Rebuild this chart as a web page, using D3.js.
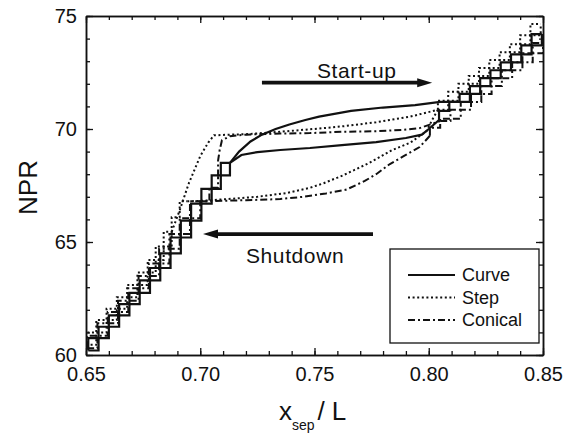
<!DOCTYPE html>
<html>
<head>
<meta charset="utf-8">
<script src="https://cdn.jsdelivr.net/npm/d3@7"></script>
<style>
  html, body { margin: 0; padding: 0; background: #fff; }
  svg { display: block; }
  text { font-family: "Liberation Sans", Arial, Helvetica, sans-serif; fill: #111; }
</style>
</head>
<body>
<svg id="chart" width="574" height="434"></svg>
<script>
// Axis ticks
const xTicks = [0.65, 0.70, 0.75, 0.80, 0.85];
const xTickLabels = ["0.65", "0.70", "0.75", "0.80", "0.85"];
const xMinorTicks = d3.range(0, 21).map(i => 0.65 + i * 0.01);
const yTicks = [60, 65, 70, 75];
const yTickLabels = ["60", "65", "70", "75"];
const yMinorTicks = d3.range(60, 76);

// Legend entries (series names)
const seriesNames = ["Curve", "Step", "Conical"];

// Curve nozzle: [x_sep/L, NPR]
const curveLowStairs = [[0.651,60.2],[0.6555,60.75],[0.660,61.25],[0.6645,61.75],[0.669,62.25],[0.6735,62.75],[0.678,63.3],[0.6825,63.85],[0.687,64.5],[0.6915,65.2],[0.696,65.95],[0.7005,66.7],[0.705,67.35],[0.709,67.95],[0.713,68.5]];
const curveStartup = [[0.713,68.5],[0.717,69.0],[0.722,69.45],[0.727,69.75],[0.733,70.0],[0.739,70.2],[0.746,70.4],[0.752,70.55],[0.766,70.8],[0.78,70.95],[0.794,71.06],[0.805,71.2],[0.8135,71.2]];
const curveShutdown = [[0.8045,70.4],[0.8,70.0],[0.797,69.75],[0.79,69.6],[0.777,69.42],[0.762,69.29],[0.748,69.16],[0.735,69.07],[0.725,68.98],[0.718,68.85],[0.713,68.5]];
const curveHighStairs = [[0.800,70.0],[0.8045,70.4],[0.809,70.8],[0.8135,71.2],[0.818,71.55],[0.8225,71.9],[0.827,72.25],[0.8315,72.6],[0.836,72.95],[0.8405,73.3],[0.845,73.7],[0.8495,74.2]];

// Step nozzle
const stepLowStairs = [[0.650,60.45],[0.6545,61.0],[0.659,61.55],[0.6635,62.05],[0.668,62.55],[0.6725,63.1],[0.677,63.65],[0.6805,64.2],[0.684,64.8],[0.6875,65.45],[0.691,66.1],[0.6945,66.8]];
const stepStartup = [[0.6875,65.45],[0.691,66.4],[0.695,67.6],[0.700,68.8],[0.7035,69.4],[0.706,69.72],[0.713,69.75],[0.72,69.77],[0.73,69.84],[0.74,69.92],[0.752,70.02],[0.7625,70.12],[0.777,70.3],[0.792,70.55],[0.804,70.85]];
const stepShutdown = [[0.804,70.85],[0.8015,70.4],[0.799,69.9],[0.792,69.4],[0.784,69.07],[0.774,68.5],[0.7625,67.95],[0.754,67.6],[0.748,67.4],[0.738,67.17],[0.725,67.0],[0.712,66.9],[0.700,66.82],[0.6945,66.8]];
const stepHighStairs = [[0.804,70.85],[0.8085,71.25],[0.813,71.65],[0.8175,72.0],[0.822,72.35],[0.8265,72.7],[0.831,73.05],[0.8355,73.4],[0.84,73.75],[0.8445,74.15],[0.849,74.65]];

// Conical nozzle
const conicalLowStairs = [[0.6505,60.3],[0.655,60.85],[0.6595,61.4],[0.664,61.9],[0.6685,62.4],[0.673,62.95],[0.6775,63.5],[0.682,64.05],[0.6865,64.7],[0.691,65.35],[0.6955,66.05],[0.700,66.8],[0.704,67.4],[0.7078,67.9]];
const conicalStartup = [[0.7078,67.9],[0.7078,68.6],[0.7085,69.07],[0.7095,69.5],[0.713,69.68],[0.72,69.75],[0.735,69.8],[0.748,69.82],[0.7625,69.88],[0.777,69.9],[0.789,69.96],[0.796,70.04],[0.805,70.35]];
const conicalShutdown = [[0.8005,69.7],[0.796,69.2],[0.789,68.8],[0.783,68.45],[0.777,68.0],[0.772,67.7],[0.764,67.32],[0.755,67.15],[0.745,67.0],[0.735,66.9],[0.72,66.85],[0.700,66.8]];
const conicalHighStairs = [[0.8005,69.7],[0.805,70.05],[0.8095,70.45],[0.814,70.85],[0.8185,71.2],[0.823,71.55],[0.8275,71.9],[0.832,72.25],[0.8365,72.6],[0.841,72.95],[0.8455,73.35],[0.85,73.8]];

// Direction annotations: [x_sep/L, NPR] from tail to head
const startupArrow = [[0.727, 72.05], [0.8015, 72.05]];
const shutdownArrow = [[0.7756, 65.35], [0.7012, 65.35]];
const startupLabel = { text: "Start-up", at: [0.7685, 72.25] };
const shutdownLabel = { text: "Shutdown", at: [0.7415, 64.05] };

const styles = {
  Curve:   { dash: null,          width: 2.2 },
  Step:    { dash: "2,2.6",       width: 2.0 },
  Conical: { dash: "7,3,2,3",     width: 2.0 }
};

const series = [
  { name: "Curve",   low: curveLowStairs,   up: curveStartup,   down: curveShutdown,   high: curveHighStairs },
  { name: "Step",    low: stepLowStairs,    up: stepStartup,    down: stepShutdown,    high: stepHighStairs },
  { name: "Conical", low: conicalLowStairs, up: conicalStartup, down: conicalShutdown, high: conicalHighStairs }
];

const svg = d3.select("#chart");
const margin = { left: 86, top: 16, right: 31, bottom: 79 };
const W = 574, H = 434;
const x = d3.scaleLinear().domain([0.65, 0.85]).range([margin.left, W - margin.right]);
const y = d3.scaleLinear().domain([60, 75]).range([H - margin.bottom, margin.top]);

svg.append("defs").append("clipPath").attr("id", "plot")
  .append("rect")
  .attr("x", x(0.65)).attr("y", y(75))
  .attr("width", x(0.85) - x(0.65)).attr("height", y(60) - y(75));

const lineLinear = d3.line().x(d => x(d[0])).y(d => y(d[1]));
const lineAfter = d3.line().x(d => x(d[0])).y(d => y(d[1])).curve(d3.curveStepAfter);
const lineBefore = d3.line().x(d => x(d[0])).y(d => y(d[1])).curve(d3.curveStepBefore);

const plot = svg.append("g").attr("clip-path", "url(#plot)");

series.forEach(s => {
  const st = styles[s.name];
  const upStart = s.up[0], upEnd = s.up[s.up.length - 1];
  const downStart = s.down[0], downEnd = s.down[s.down.length - 1];
  // start-up: climb the lower staircase, follow the upper branch, then climb the upper staircase
  const upLow = s.low.filter(d => d[0] < upStart[0]).concat([upStart]);
  const upHigh = [upEnd].concat(s.high.filter(d => d[0] > upEnd[0]));
  // shutdown: descend the upper staircase, follow the lower branch, then the lower staircase
  const downHigh = [downStart].concat(s.high.filter(d => d[0] > downStart[0]));
  const downLow = s.low.filter(d => d[0] < downEnd[0]).concat([downEnd]);

  const paths = [
    [upLow, lineAfter], [s.up, lineLinear], [upHigh, lineAfter],
    [downHigh, lineBefore], [s.down, lineLinear], [downLow, lineBefore]
  ];
  paths.forEach(([data, gen]) => {
    plot.append("path")
      .attr("d", gen(data))
      .attr("fill", "none")
      .attr("stroke", "#111")
      .attr("stroke-width", st.width)
      .attr("stroke-dasharray", st.dash)
      .attr("stroke-linejoin", "miter");
  });
});

// Axes with inward ticks on all four sides
function styleAxis(g) {
  g.selectAll(".domain").attr("stroke", "#111").attr("stroke-width", 1.5);
  g.selectAll(".tick line").attr("stroke", "#111").attr("stroke-width", 1.3);
}
const tickFont = 20;

const xAxis = svg.append("g").attr("transform", `translate(0,${y(60)})`)
  .call(d3.axisBottom(x).tickValues(xTicks).tickSize(-7).tickSizeOuter(0).tickPadding(12)
    .tickFormat((d, i) => xTickLabels[i]));
xAxis.selectAll("text").attr("font-size", tickFont).style("font-family", "'Liberation Sans', Arial, sans-serif").attr("fill", "#111");
styleAxis(xAxis);
const xMinor = svg.append("g").attr("transform", `translate(0,${y(60)})`)
  .call(d3.axisBottom(x).tickValues(xMinorTicks).tickSize(-4).tickSizeOuter(0).tickFormat(""));
styleAxis(xMinor);

const xTop = svg.append("g").attr("transform", `translate(0,${y(75)})`)
  .call(d3.axisTop(x).tickValues(xTicks).tickSize(-7).tickSizeOuter(0).tickFormat(""));
styleAxis(xTop);
const xTopMinor = svg.append("g").attr("transform", `translate(0,${y(75)})`)
  .call(d3.axisTop(x).tickValues(xMinorTicks).tickSize(-4).tickSizeOuter(0).tickFormat(""));
styleAxis(xTopMinor);

const yAxis = svg.append("g").attr("transform", `translate(${x(0.65)},0)`)
  .call(d3.axisLeft(y).tickValues(yTicks).tickSize(-7).tickSizeOuter(0).tickPadding(9)
    .tickFormat((d, i) => yTickLabels[i]));
yAxis.selectAll("text").attr("font-size", tickFont).style("font-family", "'Liberation Sans', Arial, sans-serif").attr("fill", "#111");
styleAxis(yAxis);
const yMinor = svg.append("g").attr("transform", `translate(${x(0.65)},0)`)
  .call(d3.axisLeft(y).tickValues(yMinorTicks).tickSize(-4).tickSizeOuter(0).tickFormat(""));
styleAxis(yMinor);

const yRight = svg.append("g").attr("transform", `translate(${x(0.85)},0)`)
  .call(d3.axisRight(y).tickValues(yTicks).tickSize(-7).tickSizeOuter(0).tickFormat(""));
styleAxis(yRight);
const yRightMinor = svg.append("g").attr("transform", `translate(${x(0.85)},0)`)
  .call(d3.axisRight(y).tickValues(yMinorTicks).tickSize(-4).tickSizeOuter(0).tickFormat(""));
styleAxis(yRightMinor);

// Axis titles
svg.append("text")
  .attr("transform", `translate(28,${(y(60) + y(75)) / 2 + 2}) rotate(-90)`)
  .attr("text-anchor", "middle")
  .attr("dominant-baseline", "central")
  .attr("font-size", 26)
  .text("NPR");

const xTitle = svg.append("text").attr("x", 279).attr("y", 420).attr("font-size", 26);
xTitle.append("tspan").text("x");
xTitle.append("tspan").attr("font-size", 14).attr("dy", 10).text("sep");
xTitle.append("tspan").attr("dy", -10).attr("dx", 3).text("/");
xTitle.append("tspan").attr("dx", 7).text("L");

// Direction arrows and labels
function arrow(pts) {
  const [a, b] = pts;
  const x0 = x(a[0]), x1 = x(b[0]), yy = y(a[1]);
  const dir = Math.sign(x1 - x0);
  const headLen = 15, headHalf = 4.5;
  svg.append("line")
    .attr("x1", x0).attr("y1", yy).attr("x2", x1 - dir * headLen * 0.8).attr("y2", yy)
    .attr("stroke", "#111").attr("stroke-width", 3.8);
  svg.append("path")
    .attr("d", `M${x1},${yy} L${x1 - dir * headLen},${yy - headHalf} L${x1 - dir * headLen},${yy + headHalf} Z`)
    .attr("fill", "#111");
}
arrow(startupArrow);
arrow(shutdownArrow);

[startupLabel, shutdownLabel].forEach(l => {
  svg.append("text")
    .attr("x", x(l.at[0])).attr("y", y(l.at[1]))
    .attr("text-anchor", "middle")
    .attr("font-size", 21)
    .attr("letter-spacing", 0.6)
    .text(l.text);
});

// Legend
const legend = svg.append("g");
legend.append("rect")
  .attr("x", 390).attr("y", 249).attr("width", 149).attr("height", 94)
  .attr("fill", "#fff").attr("stroke", "#111").attr("stroke-width", 1.3);
seriesNames.forEach((name, i) => {
  const ly = 275 + i * 22.5;
  const st = styles[name];
  legend.append("line")
    .attr("x1", 408).attr("x2", 455).attr("y1", ly).attr("y2", ly)
    .attr("stroke", "#111").attr("stroke-width", st.width)
    .attr("stroke-dasharray", st.dash);
  legend.append("text")
    .attr("x", 462).attr("y", ly)
    .attr("dominant-baseline", "central")
    .attr("font-size", 18)
    .text(name);
});
</script>
</body>
</html>
